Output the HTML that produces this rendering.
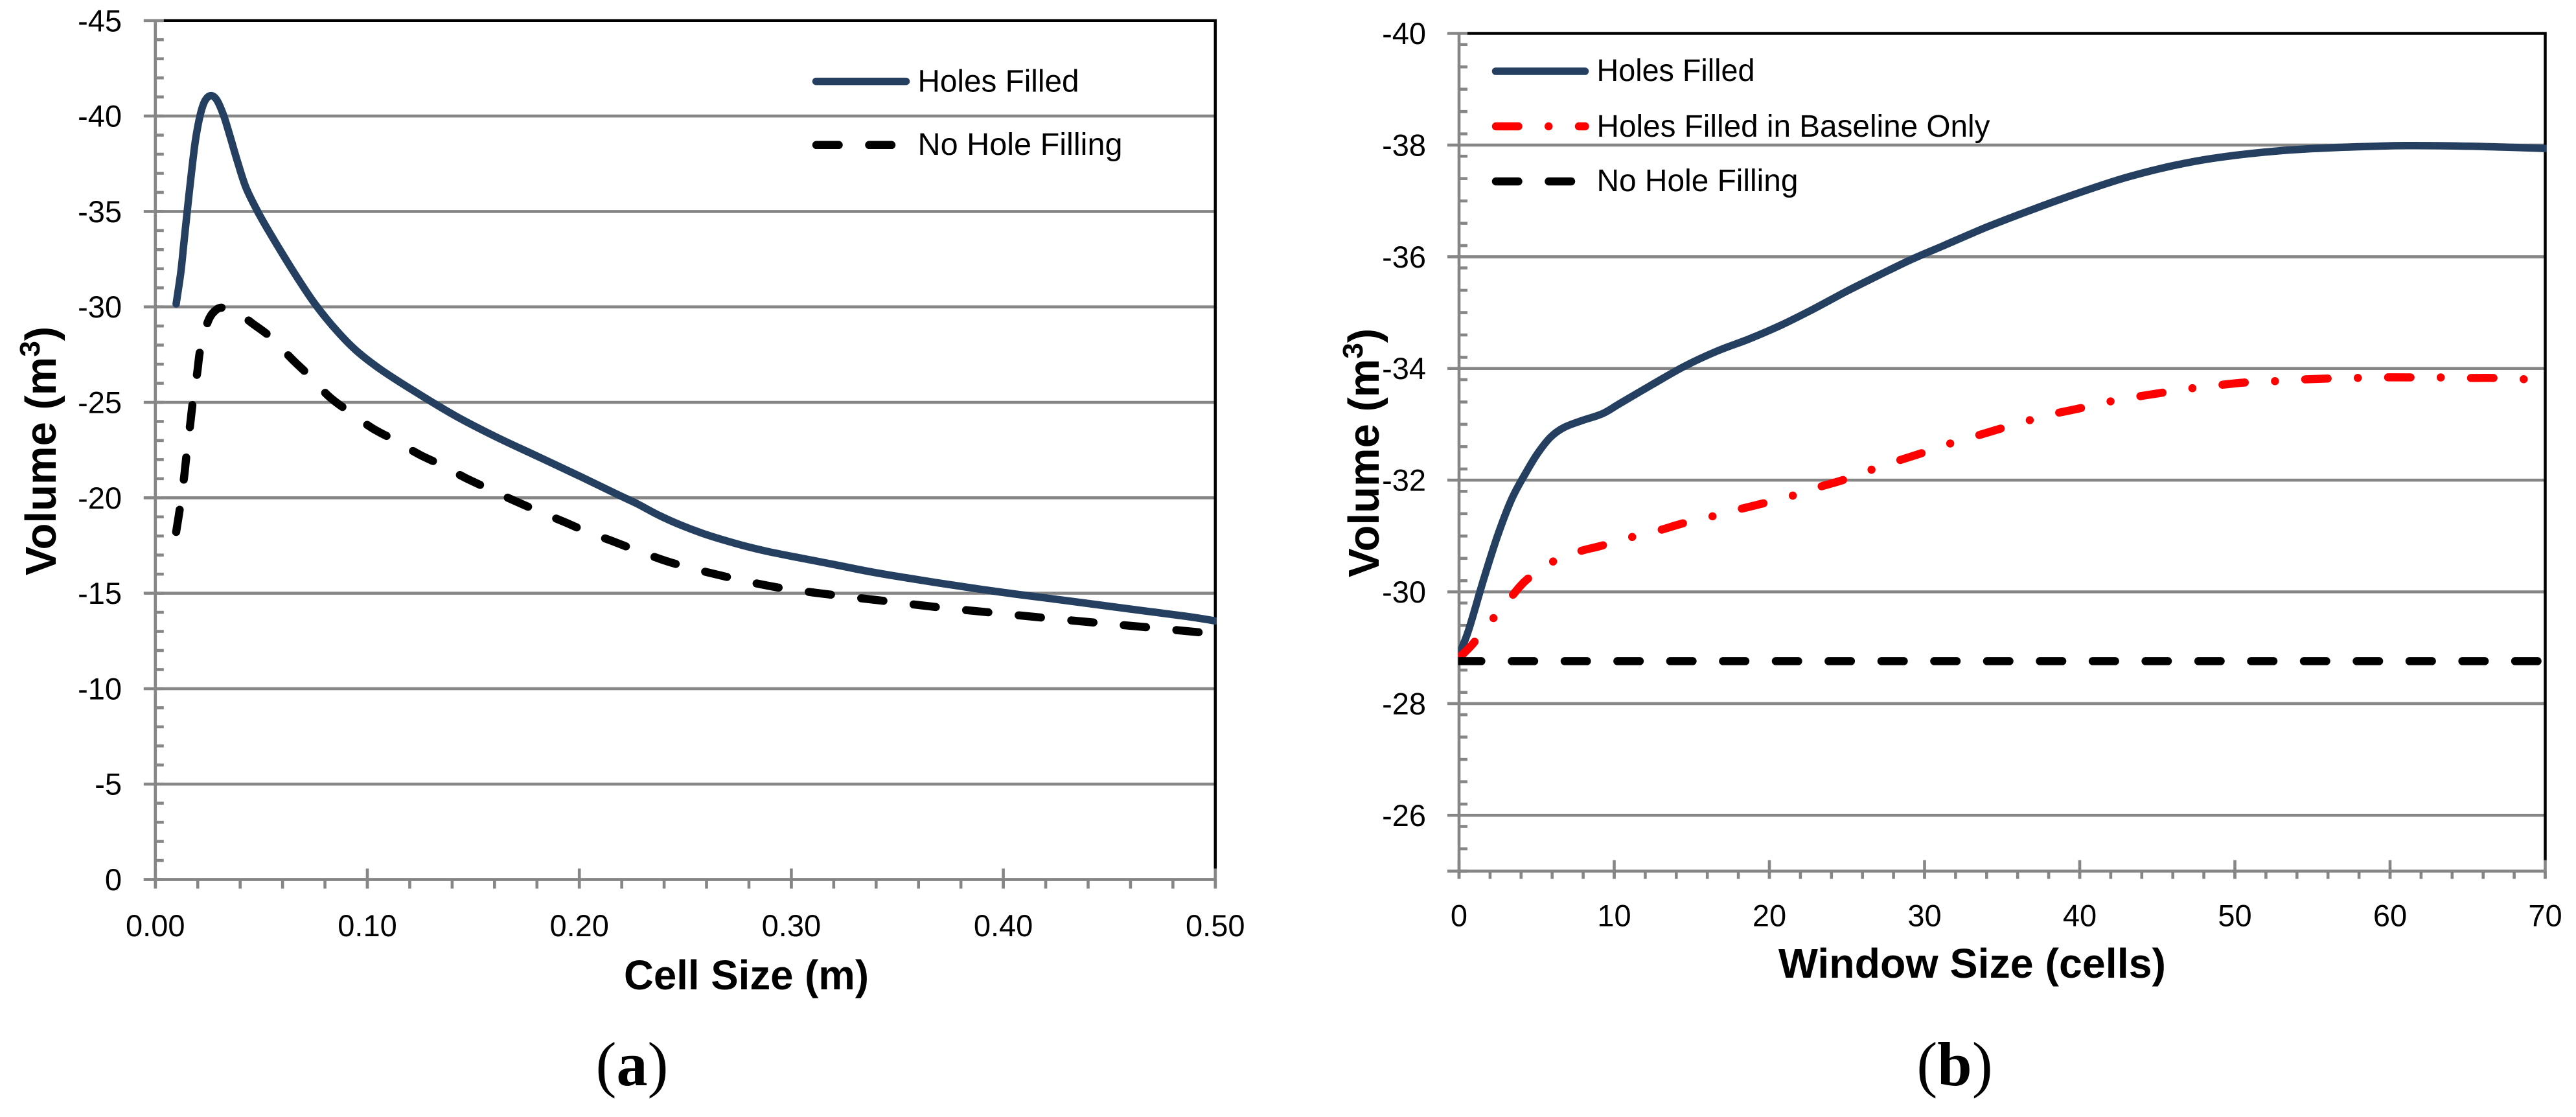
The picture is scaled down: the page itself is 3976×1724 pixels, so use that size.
<!DOCTYPE html>
<html lang="en">
<head>
<meta charset="utf-8">
<title>Volume vs cell size and window size</title>
<style>
html,body{margin:0;padding:0;background:#fff;}
svg{display:block;}
text{font-family:"Liberation Sans",sans-serif;fill:#000;}
.tick{font-size:47px;}
.legend{font-size:48px;}
.title{font-size:64px;font-weight:bold;}
.ytitle{font-size:67px;font-weight:bold;}
.cap{font-family:"Liberation Serif",serif;font-size:96px;}
.axis{stroke:#868686;stroke-width:4.6;fill:none;}
.frame{stroke:#000;stroke-width:4.5;fill:none;}
.series{fill:none;stroke-width:11.5;stroke-linejoin:round;stroke-linecap:round;}
.blue{stroke:#243f60;}
.blackdash{stroke:#000;stroke-width:12.5;stroke-dasharray:34.5 47;}
.reddash{stroke:#f00;stroke-width:12.5;stroke-dasharray:34.5 46.75 0 46.75;}
</style>
</head>
<body>
<svg xmlns="http://www.w3.org/2000/svg" width="3976" height="1724" viewBox="0 0 3976 1724">
  <rect width="3976" height="1724" fill="#fff"/>
  <defs>
    <clipPath id="clip-a"><rect x="100" y="0" width="1778" height="1400"/></clipPath>
    <clipPath id="clip-b"><rect x="2250.5" y="0" width="1680" height="1400"/></clipPath>
  </defs>

  <g id="chart-a">
    <g id="grid-a"></g>
    <g id="series-a" clip-path="url(#clip-a)"></g>
    <g id="labels-a"></g>
    <text class="ytitle" transform="translate(86,696) rotate(-90)" text-anchor="middle">Volume (m<tspan font-size="44" dy="-25">3</tspan><tspan dy="25">)</tspan></text>
    <text class="title" x="1152" y="1527" text-anchor="middle" textLength="378" lengthAdjust="spacingAndGlyphs">Cell Size (m)</text>
    <g>
      <line class="series blue" x1="1259.5" y1="125.6" x2="1398.5" y2="125.6"/>
      <text class="legend" x="1416.5" y="141.5" textLength="249" lengthAdjust="spacingAndGlyphs">Holes Filled</text>
      <line class="series blackdash" x1="1260" y1="223.8" x2="1398.5" y2="223.8"/>
      <text class="legend" x="1416.5" y="239" textLength="316" lengthAdjust="spacingAndGlyphs">No Hole Filling</text>
    </g>
    <text class="cap" x="975.5" y="1675" text-anchor="middle">(<tspan font-weight="bold">a</tspan>)</text>
  </g>

  <g id="chart-b">
    <g id="grid-b"></g>
    <g id="series-b" clip-path="url(#clip-b)"></g>
    <g id="labels-b"></g>
    <text class="ytitle" transform="translate(2128,699) rotate(-90)" text-anchor="middle">Volume (m<tspan font-size="44" dy="-25">3</tspan><tspan dy="25">)</tspan></text>
    <text class="title" x="3044" y="1509" text-anchor="middle" textLength="598" lengthAdjust="spacingAndGlyphs">Window Size (cells)</text>
    <g>
      <line class="series blue" x1="2308.5" y1="110" x2="2446.5" y2="110"/>
      <text class="legend" x="2464.5" y="125" textLength="244" lengthAdjust="spacingAndGlyphs">Holes Filled</text>
      <line class="series reddash" x1="2309" y1="195" x2="2446.5" y2="195"/>
      <text class="legend" x="2464.5" y="211" textLength="607" lengthAdjust="spacingAndGlyphs">Holes Filled in Baseline Only</text>
      <line class="series blackdash" x1="2309" y1="280" x2="2446.5" y2="280"/>
      <text class="legend" x="2464.5" y="295" textLength="311" lengthAdjust="spacingAndGlyphs">No Hole Filling</text>
    </g>
    <text class="cap" x="3017" y="1675" text-anchor="middle">(<tspan font-weight="bold">b</tspan>)</text>
  </g>

<script>
// ---- Chart (a) data ----
const aYTickValues = [-45,-40,-35,-30,-25,-20,-15,-10,-5,0];
const aXTickValues = [0,0.1,0.2,0.3,0.4,0.5];
const aXTickLabels = ["0.00","0.10","0.20","0.30","0.40","0.50"];
const aHolesX = [.0098,.012,.0133,.015,.0169,.0189,.0212,.0235,.0263,.0291,.0322,.0352,.0388,.0428,.048,.0541,.0653,.075,.0848,.0945,.1063,.1219,.1414,.1609,.1805,.2,.2171,.2272,.2374,.2476,.2578,.268,.2782,.2884,.2986,.3087,.324,.3396,.3688,.398,.4272,.4565,.4857,.5];
const aHolesV = [-30.16,-31.82,-33.18,-34.99,-36.91,-38.72,-40.08,-40.82,-41.07,-40.82,-40.03,-38.95,-37.59,-36.24,-35.05,-33.86,-31.82,-30.2,-28.85,-27.74,-26.72,-25.6,-24.3,-23.18,-22.16,-21.14,-20.22,-19.69,-19.09,-18.58,-18.15,-17.79,-17.47,-17.2,-16.97,-16.75,-16.42,-16.08,-15.55,-15.07,-14.65,-14.22,-13.8,-13.55];
const aNoFillX = [.0098,.0117,.0135,.0148,.0164,.0178,.0197,.0213,.0248,.0281,.032,.0389,.0457,.0545,.0643,.073,.0818,.0916,.1023,.1131,.1248,.1355,.1463,.158,.1697,.1805,.1932,.2039,.2166,.2273,.245,.2694,.2937,.3191,.3444,.3688,.394,.4194,.4444,.4692,.5];
const aNoFillV = [-18.21,-19.55,-21.04,-22.35,-23.83,-25.14,-26.53,-27.84,-29.23,-29.79,-29.96,-29.7,-29.14,-28.4,-27.28,-26.35,-25.32,-24.49,-23.65,-23,-22.25,-21.69,-21.04,-20.43,-19.83,-19.31,-18.72,-18.21,-17.69,-17.23,-16.55,-15.86,-15.3,-14.92,-14.59,-14.27,-13.99,-13.71,-13.45,-13.2,-12.87];

// ---- Chart (b) data ----
const bYTickValues = [-40,-38,-36,-34,-32,-30,-28,-26];
const bXTickValues = [0,10,20,30,40,50,60,70];
const bXTickLabels = ["0","10","20","30","40","50","60","70"];
const bHolesX = [0,.61,1.59,2.49,3.39,4.3,5.07,5.9,6.74,7.85,9.24,10.35,12.44,14.53,16.62,18.71,20.79,22.88,24.97,27.06,29.14,31.23,34,37,40,43,46,49,53,57,61,65,67.6,70];
const bHolesV = [-28.88,-29.31,-30.23,-31.01,-31.66,-32.13,-32.48,-32.77,-32.94,-33.06,-33.19,-33.37,-33.71,-34.04,-34.31,-34.53,-34.78,-35.07,-35.38,-35.67,-35.95,-36.2,-36.53,-36.85,-37.15,-37.42,-37.63,-37.78,-37.9,-37.96,-37.99,-37.98,-37.96,-37.94];
const bBaselineX = [0,.89,2.1,3.33,4.33,5.9,7.71,9.1,10.98,12.87,14.34,16.15,17.93,19.53,21.34,23.12,24.72,26.4,28.2,29.78,31.46,33.18,34.87,36.6,38.37,40.07,41.8,43.6,45.4,47.09,48.9,50.7,52.4,54.2,56.05,57.74,59.55,61.4,63.06,64.88,66.7,68.4,70];
const bBaselineV = [-28.82,-29.07,-29.49,-29.9,-30.21,-30.52,-30.72,-30.82,-30.97,-31.1,-31.22,-31.34,-31.47,-31.58,-31.71,-31.87,-32,-32.17,-32.34,-32.48,-32.64,-32.78,-32.92,-33.06,-33.19,-33.29,-33.4,-33.49,-33.57,-33.64,-33.7,-33.75,-33.77,-33.8,-33.82,-33.83,-33.84,-33.84,-33.84,-33.83,-33.83,-33.81,-33.8];
const bNoFillX = [0,70];
const bNoFillV = [-28.76,-28.76];

// ---- Axis functions ----
const aX = v => 239.8 + v * 3272;
const aY = v => 1357.5 + v * 29.46;
const bX = v => 2252 + v * 23.95;
const bY = v => 1344.5 + (v + 25) * 86.2;

const NS = "http://www.w3.org/2000/svg";
function make(parent, tag, props) {
  const el = document.createElementNS(NS, tag);
  for (const k in props) el.setAttribute(k, props[k]);
  parent.appendChild(el);
  return el;
}
function smoothPath(xs, ys, fx, fy) {
  const p = xs.map((x, i) => [fx(x), fy(ys[i])]);
  let d = "M" + p[0][0].toFixed(1) + " " + p[0][1].toFixed(1);
  for (let i = 0; i < p.length - 1; i++) {
    const a = p[Math.max(i - 1, 0)], b = p[i], c = p[i + 1], e = p[Math.min(i + 2, p.length - 1)];
    const c1x = b[0] + (c[0] - a[0]) / 6, c1y = b[1] + (c[1] - a[1]) / 6;
    const c2x = c[0] - (e[0] - b[0]) / 6, c2y = c[1] - (e[1] - b[1]) / 6;
    d += "C" + [c1x, c1y, c2x, c2y, c[0], c[1]].map(n => n.toFixed(1)).join(" ");
  }
  return d;
}
function drawAxes(prefix, grid, labels, cfg) {
  const x0 = cfg.fx(cfg.xMin), x1 = cfg.fx(cfg.xMax), y0 = cfg.fy(cfg.yBottom), yT = cfg.fy(cfg.yTop);
  // horizontal gridlines
  cfg.yTicks.forEach(v => {
    const isTop = v === cfg.yTop;
    const line = make(grid, "line", {class: "axis", x1: x0 - 18, x2: isTop ? x0 + 13 : x1, y1: cfg.fy(v), y2: cfg.fy(v)});
    
    
    const t = make(labels, "text", {class: "tick", x: cfg.yLabelX, y: cfg.fy(v) + 16.5, "text-anchor": "end"});
    t.textContent = String(v);
    
    
  });
  // y minor ticks
  for (let v = cfg.yBottom; v >= cfg.yTop - 1e-6; v -= cfg.yMinor) {
    const tk = make(grid, "line", {class: "axis", x1: x0, x2: x0 + 13, y1: cfg.fy(v), y2: cfg.fy(v)});
    
    
  }
  // frame (top + right)
  const frame = make(grid, "path", {class: "frame", d: "M" + (x0 + 13) + " " + yT + "H" + x1 + "V" + (y0 - 17)});
  
  
  // axis lines
  const yAxis = make(grid, "line", {class: "axis", x1: x0, x2: x0, y1: yT - 2, y2: y0 + cfg.tickDown});
  
  
  const xAxis = make(grid, "line", {class: "axis", x1: x0 - 18, x2: x1 + 2, y1: y0, y2: y0});
  
  
  // x ticks
  for (let v = cfg.xMin; v <= cfg.xMax + 1e-6; v += cfg.xMinor) {
    const tk = make(grid, "line", {class: "axis", x1: cfg.fx(v), x2: cfg.fx(v), y1: y0, y2: y0 + cfg.tickDown});
    
    
  }
  cfg.xTicks.forEach((v, i) => {
    const tk = make(grid, "line", {class: "axis", x1: cfg.fx(v), x2: cfg.fx(v), y1: y0 - 17, y2: y0 + cfg.tickDown});
    
    
    const t = make(labels, "text", {class: "tick", x: cfg.fx(v), y: cfg.xLabelY, "text-anchor": "middle"});
    t.textContent = cfg.xLabels[i];
    
    
  });
}

drawAxes("a", document.getElementById("grid-a"), document.getElementById("labels-a"), {
  fx: aX, fy: aY, xMin: 0, xMax: 0.5, yBottom: 0, yTop: -45, yMinor: 1, xMinor: 0.02,
  yTicks: aYTickValues, xTicks: aXTickValues, xLabels: aXTickLabels, yLabelX: 188, xLabelY: 1445, tickDown: 14
});
drawAxes("b", document.getElementById("grid-b"), document.getElementById("labels-b"), {
  fx: bX, fy: bY, xMin: 0, xMax: 70, yBottom: -25, yTop: -40, yMinor: 0.4, xMinor: 2,
  yTicks: bYTickValues, xTicks: bXTickValues, xLabels: bXTickLabels, yLabelX: 2201, xLabelY: 1429.5, tickDown: 12
});

const sa = document.getElementById("series-a");
const sb = document.getElementById("series-b");

const lineANoFill = make(sa, "path", {class: "series blackdash", d: smoothPath(aNoFillX, aNoFillV, aX, aY)});


const lineAHoles = make(sa, "path", {class: "series blue", d: smoothPath(aHolesX, aHolesV, aX, aY)});



const lineBHoles = make(sb, "path", {class: "series blue", d: smoothPath(bHolesX, bHolesV, bX, bY)});


const lineBBase = make(sb, "path", {class: "series reddash", d: smoothPath(bBaselineX, bBaselineV, bX, bY)});


const lineBNoFill = make(sb, "path", {class: "series blackdash", d: smoothPath(bNoFillX, bNoFillV, bX, bY)});


</script>
</svg>
</body>
</html>
